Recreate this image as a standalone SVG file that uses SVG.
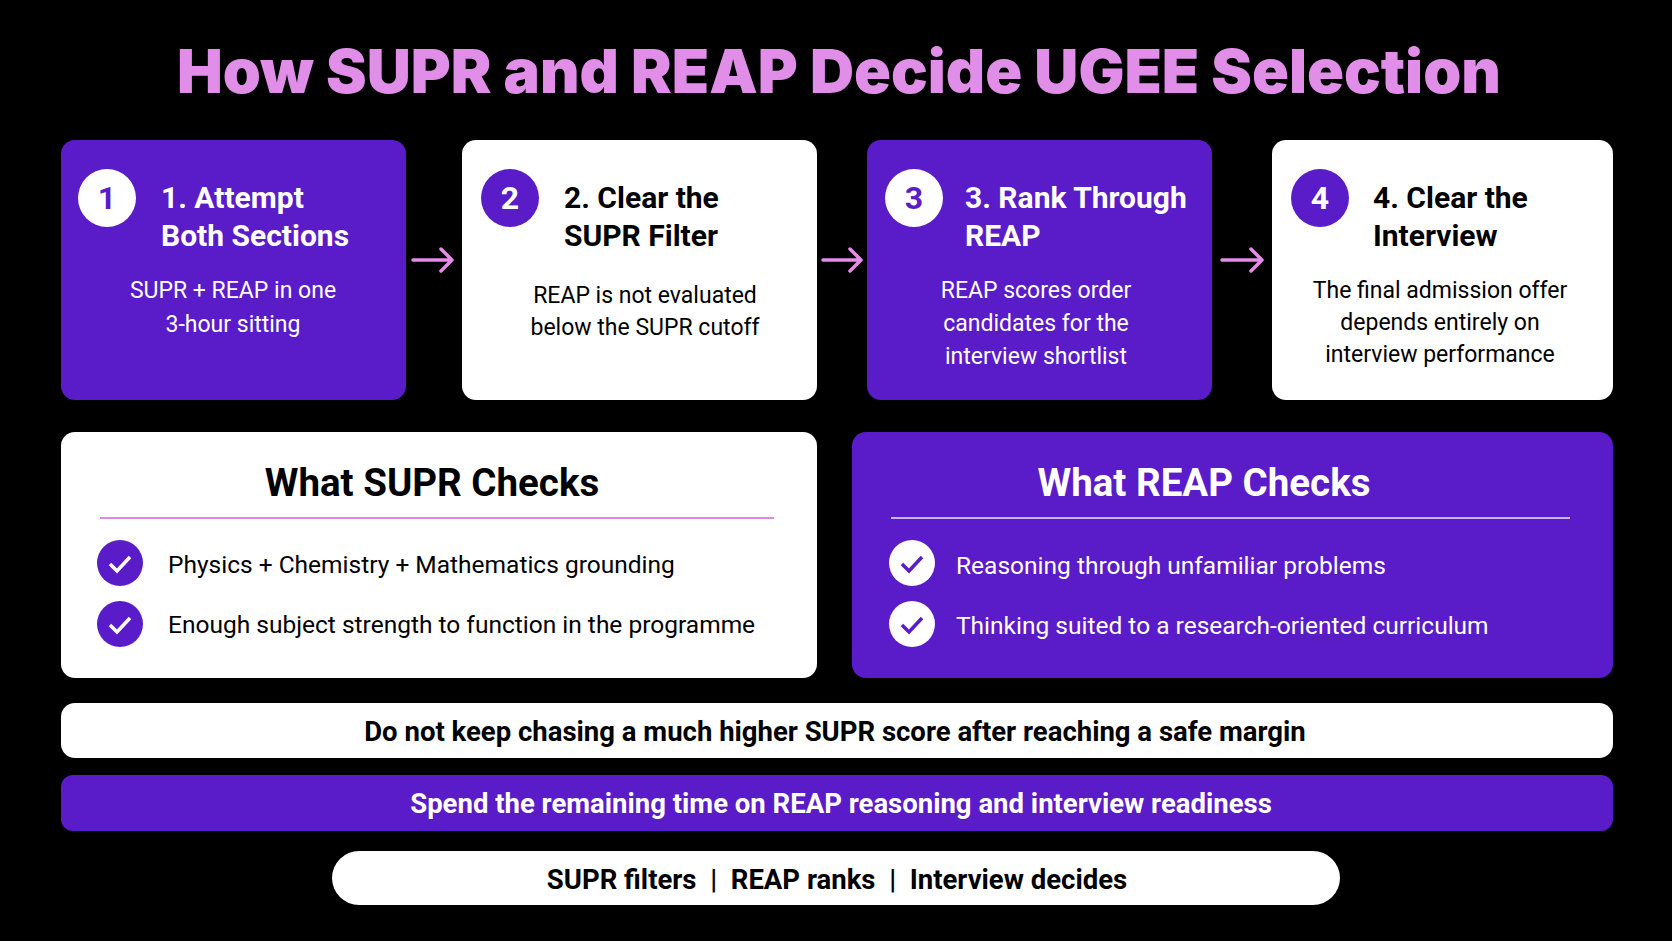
<svg xmlns="http://www.w3.org/2000/svg" width="1672" height="941" viewBox="0 0 1672 941">
<style>
text{font-family:Roboto,"Liberation Sans",sans-serif}
.p{fill:#5a1bc8}.w{fill:#fff}
.tt{font-size:30px;font-weight:700}
.b{font-size:23px;text-anchor:middle}
.num{font-size:32px;font-weight:700;text-anchor:middle}
.h{font-size:38.5px;font-weight:700;text-anchor:middle}
.ck{font-size:24.5px}
.bar{font-size:27.5px;font-weight:700;text-anchor:middle;white-space:pre}
.arr{stroke:#e58be8;stroke-width:3.5;fill:none;stroke-linecap:round;stroke-linejoin:round}
</style>
<rect width="1672" height="941" fill="#000"/>
<text x="839" y="93" text-anchor="middle" font-size="61" font-weight="900" fill="#e08ee8" style="font-family:Inter,Roboto,sans-serif">How SUPR and REAP Decide UGEE Selection</text>
<g id="step1"><rect x="61" y="140" width="345" height="260" rx="14" class="p"/><circle cx="107" cy="198" r="29" class="w"/><text x="107" y="209" class="num" fill="#5a1bc8">1</text>
<text x="161" y="208" class="tt" fill="#fff">1. Attempt</text><text x="161" y="246" class="tt" fill="#fff">Both Sections</text>
<text x="233" y="298" class="b" fill="#fff">SUPR + REAP in one</text><text x="233" y="332" class="b" fill="#fff">3-hour sitting</text></g>
<g id="step2"><rect x="462" y="140" width="355" height="260" rx="14" class="w"/><circle cx="510" cy="198" r="29" class="p"/><text x="510" y="209" class="num" fill="#fff">2</text>
<text x="564" y="208" class="tt" fill="#000">2. Clear the</text><text x="564" y="246" class="tt" fill="#000">SUPR Filter</text>
<text x="645" y="303" class="b" fill="#000">REAP is not evaluated</text><text x="645" y="335" class="b" fill="#000">below the SUPR cutoff</text></g>
<g id="step3"><rect x="867" y="140" width="345" height="260" rx="14" class="p"/><circle cx="914" cy="198" r="29" class="w"/><text x="914" y="209" class="num" fill="#5a1bc8">3</text>
<text x="965" y="208" class="tt" fill="#fff">3. Rank Through</text><text x="965" y="246" class="tt" fill="#fff">REAP</text>
<text x="1036" y="298" class="b" fill="#fff">REAP scores order</text><text x="1036" y="331" class="b" fill="#fff">candidates for the</text><text x="1036" y="364" class="b" fill="#fff">interview shortlist</text></g>
<g id="step4"><rect x="1272" y="140" width="341" height="260" rx="14" class="w"/><circle cx="1320" cy="198" r="29" class="p"/><text x="1320" y="209" class="num" fill="#fff">4</text>
<text x="1373" y="208" class="tt" fill="#000">4. Clear the</text><text x="1373" y="246" class="tt" fill="#000">Interview</text>
<text x="1440" y="298" class="b" fill="#000">The final admission offer</text><text x="1440" y="330" class="b" fill="#000">depends entirely on</text><text x="1440" y="362" class="b" fill="#000">interview performance</text></g>
<g id="connectors">
<path class="arr" d="M413 260H452M441 249L452 260L441 271"/>
<path class="arr" d="M823 260H861M850 249L861 260L850 271"/>
<path class="arr" d="M1222 260H1262M1251 249L1262 260L1251 271"/>
</g>
<g id="supr"><rect x="61" y="432" width="756" height="246" rx="14" class="w"/>
<text x="432" y="496" class="h" fill="#000">What SUPR Checks</text><rect x="100" y="517" width="674" height="2" fill="#d98be0"/>
<circle cx="120" cy="563" r="23" class="p"/><path d="M110 564l7 7 13-14" stroke="#fff" stroke-width="3.5" fill="none"/>
<text x="168" y="573" class="ck" fill="#000">Physics + Chemistry + Mathematics grounding</text>
<circle cx="120" cy="624" r="23" class="p"/><path d="M110 625l7 7 13-14" stroke="#fff" stroke-width="3.5" fill="none"/>
<text x="168" y="633" class="ck" fill="#000">Enough subject strength to function in the programme</text></g>
<g id="reap"><rect x="852" y="432" width="761" height="246" rx="14" class="p"/>
<text x="1204" y="496" class="h" fill="#fff">What REAP Checks</text><rect x="891" y="517" width="679" height="2" fill="#c9b5f0"/>
<circle cx="912" cy="563" r="23" class="w"/><path d="M902 564l7 7 13-14" stroke="#5a1bc8" stroke-width="3.5" fill="none"/>
<text x="956" y="574" class="ck" fill="#fff">Reasoning through unfamiliar problems</text>
<circle cx="912" cy="624" r="23" class="w"/><path d="M902 625l7 7 13-14" stroke="#5a1bc8" stroke-width="3.5" fill="none"/>
<text x="956" y="634" class="ck" fill="#fff">Thinking suited to a research-oriented curriculum</text></g>
<g id="bar1"><rect x="61" y="703" width="1552" height="55" rx="14" class="w"/><text x="835" y="741" class="bar" fill="#000">Do not keep chasing a much higher SUPR score after reaching a safe margin</text></g>
<g id="bar2"><rect x="61" y="775" width="1552" height="56" rx="12" class="p"/><text x="841" y="813" class="bar" fill="#fff">Spend the remaining time on REAP reasoning and interview readiness</text></g>
<g id="pill"><rect x="332" y="851" width="1008" height="54" rx="27" class="w"/><text x="837" y="889" class="bar" fill="#000">SUPR filters  |  REAP ranks  |  Interview decides</text></g>
</svg>
